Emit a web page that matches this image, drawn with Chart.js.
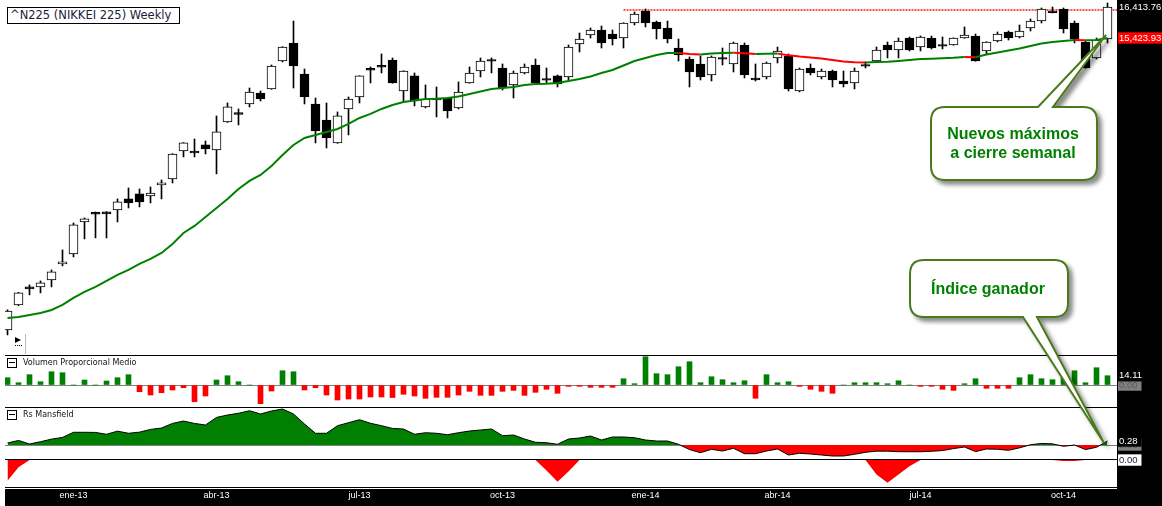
<!DOCTYPE html>
<html>
<head>
<meta charset="utf-8">
<script src="https://cdn.jsdelivr.net/npm/chart.js@4.4.1/dist/chart.umd.min.js"></script>
<style>
  html, body { margin: 0; padding: 0; background: #fff; }
  #wrap { position: relative; width: 1162px; height: 506px; overflow: hidden; background: #fff; }
  canvas { position: absolute; left: 0; }
  .blk { position: absolute; background: #000; }
  .sep { position: absolute; left: 5px; width: 1112px; height: 1px; background: #000; z-index: 3; }
  #title { position: absolute; left: 7px; top: 7px; width: 169px; height: 15px; border: 1px solid #000;
           background: #fff; font: 11.5px 'DejaVu Sans', sans-serif; color: #1c1c3c; line-height: 15px;
           padding-left: 2px; white-space: nowrap; z-index: 5; }
  .box { position: absolute; left: 7px; width: 8px; height: 8px; border: 1px solid #000; background: #fff; z-index: 5; }
  .box:after { content: ''; position: absolute; left: 1px; right: 1px; top: 3px; height: 1px; background: #000; }
  .hdr { position: absolute; left: 23px; font: 8px 'DejaVu Sans', sans-serif; color: #111; line-height: 10px;
         white-space: nowrap; z-index: 5; }
  #play { position: absolute; left: 15px; top: 337px; width: 0; height: 0; border-left: 6px solid #000;
          border-top: 3px solid transparent; border-bottom: 3px solid transparent; z-index: 5; }
  #playdots { position: absolute; left: 15px; top: 345px; width: 7px; border-top: 1px dotted #000; z-index: 5; }
  #playbar { position: absolute; left: 25px; top: 334px; width: 1px; height: 20px; background: #bbb; z-index: 5; }
  #notes { position: absolute; left: 0; top: 0; z-index: 10; pointer-events: none; }
</style>
</head>
<body>
<div id="wrap">
  <div class="blk" style="left:1117px;top:0;width:45px;height:506px"></div>
  <div class="blk" style="left:5px;top:489px;width:1157px;height:17px"></div>

  <canvas id="priceChart" width="1162" height="355" style="top:0;width:1162px;height:355px"></canvas>
  <canvas id="volChart" width="1162" height="52" style="top:355px;width:1162px;height:52px"></canvas>
  <canvas id="rsChart" width="1162" height="52" style="top:407px;width:1162px;height:52px"></canvas>
  <canvas id="lowChart" width="1162" height="66" style="top:440px;width:1162px;height:66px"></canvas>

  <div class="sep" style="top:355px"></div>
  <div class="sep" style="top:407px"></div>
  <div class="sep" style="top:459px"></div>
  <div class="sep" style="top:487px"></div>

  <div id="title">^N225 (NIKKEI 225) Weekly</div>
  <div id="play"></div><div id="playdots"></div><div id="playbar"></div>

  <div class="box" style="top:358px"></div>
  <div class="hdr" style="top:358px">Volumen Proporcional Medio</div>
  <div class="box" style="top:410px"></div>
  <div class="hdr" style="top:410px">Rs Mansfield</div>

  <svg id="notes" width="1162" height="506">
    <defs>
      <filter id="sh" x="-20%" y="-20%" width="150%" height="150%">
        <feDropShadow dx="4" dy="4" stdDeviation="2" flood-color="#000" flood-opacity="0.45"/>
      </filter>
    </defs>
    <path d="M945 107 L1038 107 L1106 35 L1053 107 L1083 107 Q1097 107 1097 121 L1097 166 Q1097 180 1083 180 L945 180 Q931 180 931 166 L931 121 Q931 107 945 107 Z"
          fill="#fff" stroke="#4a7a1e" stroke-width="2" filter="url(#sh)"/>
    <text x="1013" y="139" text-anchor="middle" font-family="'Liberation Sans', Arial, sans-serif" font-weight="bold" font-size="16" fill="#008000">Nuevos máximos</text>
    <text x="1013" y="158" text-anchor="middle" font-family="'Liberation Sans', Arial, sans-serif" font-weight="bold" font-size="16" fill="#008000">a cierre semanal</text>
    <path d="M924 260 L1054 260 Q1068 260 1068 274 L1068 303 Q1068 317 1054 317 L1037 317 L1104 443 L1023 317 L924 317 Q910 317 910 303 L910 274 Q910 260 924 260 Z"
          fill="#fff" stroke="#4a7a1e" stroke-width="2" filter="url(#sh)"/>
    <text x="988" y="294" text-anchor="middle" font-family="'Liberation Sans', Arial, sans-serif" font-weight="bold" font-size="16" fill="#008000">Índice ganador</text>
  </svg>
</div>

<script>
// x-axis: one category per weekly bar, month labels at quarter starts
const tickIndex = [6, 19, 32, 45, 58, 70, 83, 96];
const tickLabels = ['ene-13', 'abr-13', 'jul-13', 'oct-13', 'ene-14', 'abr-14', 'jul-14', 'oct-14'];

// weekly candles
const open = [8586, 9028, 9360, 9360, 9492, 9802, 10001, 10664, 10870, 10880,
  10923, 11168, 11280, 11235, 11486, 11624, 12296, 12290, 12445, 12320,
  13033, 13280, 13512, 13813, 13924, 14729, 15271, 14350, 13512, 13085,
  12495, 13377, 13703, 14510, 14600, 14758, 13868, 14293, 13431, 13675,
  13675, 13404, 14093, 14436, 14770, 14524, 14037, 14379, 14611, 14220,
  14293, 14264, 15240, 15518, 15674, 15549, 15424, 15896, 16284, 15928,
  15737, 15118, 14788, 14641, 14321, 14830, 14641, 15209, 14235, 14264,
  14818, 14878, 13868, 14524, 14264, 14436, 14150, 14093, 14625, 14729,
  15209, 15057, 15424, 15148, 15424, 15225, 15209, 15424, 15487, 15027,
  15332, 15612, 15455, 15737, 15959, 16284, 16349, 15896, 15301, 14818,
  15393];
const high = [8940, 9260, 9398, 9473, 9684, 10081, 10642, 10750, 10880, 10885,
  11168, 11416, 11393, 11439, 11601, 12230, 12505, 12595, 12545, 13191,
  13539, 13377, 13952, 13868, 14611, 15160, 15959, 14494, 13675, 13539,
  13297, 13703, 14300, 14553, 14938, 14818, 14445, 14379, 14037, 13980,
  13685, 14122, 14553, 14818, 14818, 14641, 14436, 14641, 14788, 14524,
  14321, 15209, 15580, 15737, 15801, 15674, 15905, 16251, 16349, 15959,
  15959, 15393, 14848, 14878, 14878, 15118, 15301, 15271, 14641, 14700,
  15148, 14938, 14524, 14641, 14494, 14465, 14436, 14524, 14700, 15148,
  15301, 15424, 15455, 15487, 15487, 15455, 15430, 15769, 15549, 15310,
  15612, 15643, 15832, 16024, 16382, 16414, 16382, 15959, 15332, 15424,
  16546];
const low = [8501, 9015, 9212, 9249, 9360, 9763, 9941, 10306, 10327, 10327,
  10664, 10967, 10990, 11078, 11168, 11532, 12149, 12149, 12222, 11742,
  13020, 12955, 13431, 13593, 13915, 14700, 13952, 13512, 12495, 12370,
  12485, 12698, 13539, 14093, 14379, 14085, 13566, 13458, 13404, 13165,
  13138, 13377, 14085, 14264, 14379, 13896, 13675, 14350, 14085, 14093,
  13980, 14178, 14997, 15424, 15118, 15209, 15118, 15832, 15769, 15393,
  15271, 14729, 13980, 14178, 14150, 14611, 14408, 14235, 14150, 14207,
  14670, 13868, 13841, 14321, 14207, 13980, 13980, 13924, 14524, 14700,
  14818, 14818, 15027, 15027, 15088, 15088, 15200, 15415, 14720, 14938,
  15301, 15362, 15424, 15643, 15896, 16219, 15580, 15271, 14515, 14788,
  15271];
const close = [8919, 9249, 9323, 9436, 9646, 9842, 10600, 10728, 10830, 10836,
  11101, 11078, 11101, 11302, 11532, 12222, 12495, 12245, 12345, 12774,
  13431, 13230, 13841, 13648, 14582, 15148, 14582, 13703, 12800, 12621,
  13191, 13648, 14293, 14460, 14550, 14093, 14436, 13593, 13648, 13620,
  13324, 13841, 14379, 14729, 14720, 13952, 14379, 14553, 14093, 14170,
  14065, 15148, 15393, 15674, 15271, 15393, 15896, 16186, 15896, 15706,
  15393, 14908, 14408, 14264, 14848, 14780, 15271, 14321, 14178, 14670,
  15027, 13924, 14494, 14379, 14436, 14178, 14065, 14436, 14575, 15057,
  15057, 15332, 15057, 15455, 15118, 15170, 15424, 15518, 14729, 15301,
  15549, 15424, 15643, 15959, 16349, 16230, 15706, 15393, 14524, 15362,
  16413.76];

// moving average (red while falling, green while rising)
const ma30 = [8795, 8813, 8848, 8884, 8937, 9028, 9156, 9267, 9360, 9473,
  9588, 9684, 9802, 9901, 10021, 10203, 10431, 10579, 10771, 10967,
  11168, 11393, 11578, 11718, 11932, 12198, 12445, 12621, 12698, 12774,
  12851, 12981, 13138, 13244, 13377, 13485, 13566, 13607, 13648, 13652,
  13675, 13717, 13786, 13854, 13924, 13952, 13980, 14037, 14065, 14070,
  14093, 14150, 14207, 14279, 14379, 14465, 14597, 14729, 14818, 14908,
  14967, 14970, 14938, 14922, 14952, 14967, 14973, 14958, 14938, 14944,
  14948, 14900, 14860, 14833, 14803, 14758, 14714, 14691, 14682, 14700,
  14706, 14729, 14758, 14788, 14797, 14809, 14824, 14848, 14839, 14922,
  14982, 15042, 15103, 15179, 15255, 15301, 15332, 15362, 15353, 15362,
  15423.93];

// previous weekly closing high (dotted line)
const prevHighClose = 16316;
const prevHighStart = 56;

const volume = [11.1, 3.5, 15.7, 5.0, 20.2, 18.7, 0, 7.6, 0, 6.1,
  11.1, 15.7, -10.2, -15.2, -11.7, -7.6, -4.1, -25.4, -16.7, 7.6,
  14.1, 5.0, 0, -28.4, -9.1, 21.7, 20.2, -7.6, -4.1, -15.2,
  -22.8, -21.3, -21.3, -18.2, -18.2, -19.0, -14.1, -16.7, -20.2, -18.7,
  -18.7, -15.2, -9.6, -15.7, -15.7, -9.6, -8.1, -15.7, -11.1, -6.5,
  -12.6, -2.0, -2.0, -3.5, -3.5, -3.5, 9.6, 2.0, 43.0, 17.2,
  15.7, 27.8, 35.4, 3.5, 12.6, 8.1, 3.5, 6.5, -20.2, 15.7,
  3.5, 5.0, -2.0, -6.5, -9.6, -12.6, 0, 3.5, 3.5, 3.5,
  2.0, 6.5, 0, -2.0, -2.0, -6.5, -8.1, 2.0, 9.6, -5.0,
  -5.0, -5.0, 11.1, 15.7, 9.6, 8.1, 14.1, 21.7, 3.5, 26.3,
  14.11];

const rsMansfield = [0.14, 0.32, 0.07, 0.23, 0.41, 0.53, 0.89, 0.89, 0.88, 0.75,
  0.97, 0.82, 0.90, 1.09, 1.19, 1.51, 1.68, 1.51, 1.40, 1.93,
  2.10, 2.22, 2.40, 2.17, 2.38, 2.52, 2.17, 1.47, 0.82, 0.82,
  1.35, 1.56, 1.77, 1.52, 1.35, 1.16, 1.12, 0.75, 0.86, 0.82,
  0.72, 0.86, 0.98, 1.05, 1.12, 0.65, 0.70, 0.42, 0.19, 0.16,
  0.05, 0.42, 0.49, 0.63, 0.35, 0.56, 0.56, 0.51, 0.35, 0.28,
  0.28, 0.05, -0.32, -0.54, -0.30, -0.42, -0.23, -0.61, -0.61, -0.42,
  -0.28, -0.70, -0.58, -0.63, -0.70, -0.77, -0.77, -0.65, -0.51, -0.43,
  -0.43, -0.47, -0.47, -0.47, -0.44, -0.39, -0.25, -0.14, -0.46, -0.28,
  -0.30, -0.37, -0.20, 0.02, 0.11, 0.08, -0.09, 0.00, -0.32, -0.16,
  0.28];

const rsNegative = [-2.0, -0.7, 0, 0, 0, 0, 0, 0, 0, 0,
  0, 0, 0, 0, 0, 0, 0, 0, 0, 0,
  0, 0, 0, 0, 0, 0, 0, 0, 0, 0,
  0, 0, 0, 0, 0, 0, 0, 0, 0, 0,
  0, 0, 0, 0, 0, 0, 0, 0, 0, -1.0,
  -2.1, -1.1, 0, 0, 0, 0, 0, 0, 0, 0,
  0, 0, 0, 0, 0, 0, 0, 0, 0, 0,
  0, 0, 0, 0, 0, 0, 0, 0, 0, -1.4,
  -2.2, -1.4, -0.6, 0, 0, 0, 0, 0, 0, 0,
  0, 0, 0, 0, 0, 0, -0.1, -0.1, 0, 0,
  0];

// right-axis labels
const priceTicks = [16413.76, 15423.93];
const volumeTicks = [0, 14.11];
const rsTicks = [0, 0.28];
const lowTicks = [0];

const toXY = arr => arr.map((v, i) => ({ x: i, y: v }));
const axisFont = { family: "'Liberation Sans', Arial, sans-serif", size: 9.5 };
const dateFont = { family: "'Liberation Sans', Arial, sans-serif", size: 9 };
const fmt = v => v.toLocaleString('en-US', { minimumFractionDigits: 2, maximumFractionDigits: 2 });

function xAxis(show) {
  return {
    type: 'linear', min: -0.2273, max: 100.8636, bounds: 'data', offset: false, display: show,
    grid: { display: false, drawTicks: false }, border: { display: false },
    afterBuildTicks: s => { s.ticks = tickIndex.map(v => ({ value: v })); },
    afterFit: s => { if (show) s.height = 18; s.paddingLeft = 0; s.paddingRight = 0; },
    ticks: { autoSkip: false, maxRotation: 0, padding: 2, color: '#fff', font: dateFont,
             callback: v => tickLabels[tickIndex.indexOf(v)] || '' }
  };
}

function yAxis(extra, values, colors, boxes, zeroLine) {
  return Object.assign({
    position: 'right', bounds: 'data',
    grid: { display: !!zeroLine, drawTicks: false, color: c => (c.tick && c.tick.value === 0) ? '#808080' : 'rgba(0,0,0,0)' },
    border: { display: false },
    afterBuildTicks: s => { s.ticks = values.map(v => ({ value: v })); },
    afterFit: s => { s.width = 45; s.paddingTop = 0; s.paddingBottom = 0; },
    ticks: {
      autoSkip: false, padding: 2, font: axisFont,
      color: c => colors[values.indexOf(c.tick.value)],
      showLabelBackdrop: true,
      backdropColor: c => boxes[values.indexOf(c.tick.value)],
      backdropPadding: { left: 1, right: 4, top: 0, bottom: 0 },
      callback: v => fmt(v)
    }
  }, extra);
}

const baseOptions = (padding) => ({
  responsive: false, animation: false, events: [],
  layout: { padding },
  plugins: { legend: { display: false }, tooltip: { enabled: false } }
});

const prevHighLine = {
  id: 'prevHighLine',
  beforeDatasetsDraw(chart) {
    const { ctx, chartArea, scales } = chart;
    const y = scales.y.getPixelForValue(prevHighClose);
    const x0 = scales.x.getPixelForValue(prevHighStart);
    ctx.save();
    ctx.strokeStyle = 'rgba(255,40,40,0.8)';
    ctx.lineWidth = 2;
    ctx.setLineDash([2, 1]);
    ctx.beginPath();
    ctx.moveTo(x0, y);
    ctx.lineTo(chartArea.right, y);
    ctx.stroke();
    ctx.restore();
  }
};

// price panel
new Chart(document.getElementById('priceChart'), {
  type: 'bar',
  data: {
    datasets: [
      {
        type: 'line', data: toXY(ma30), borderWidth: 2, pointRadius: 0, borderColor: '#008000',
        segment: { borderColor: c => c.p1.parsed.y < c.p0.parsed.y ? '#ff0000' : '#008000' },
        order: 0
      },
      {
        data: open.map((o, i) => ({ x: i, y: [o, close[i]] })),
        backgroundColor: open.map((o, i) => close[i] >= o ? '#fff' : '#000'),
        borderColor: '#000', borderWidth: 1, borderSkipped: false,
        barThickness: 9, grouped: false, order: 1
      },
      {
        data: low.map((l, i) => ({ x: i, y: [l, high[i]] })),
        backgroundColor: '#000', borderWidth: 0, barThickness: 1, grouped: false, order: 2
      }
    ]
  },
  options: Object.assign(baseOptions({ left: 5, top: 0, right: 0, bottom: 0 }), {
    scales: {
      x: xAxis(false),
      y: yAxis({ type: 'logarithmic', min: 8165, max: 16646 }, priceTicks,
               ['#fff', '#fff'], ['rgba(0,0,0,0)', '#ff0000'], false)
    }
  }),
  plugins: [prevHighLine]
});

// volume panel
new Chart(document.getElementById('volChart'), {
  type: 'bar',
  data: {
    datasets: [{
      data: toXY(volume),
      backgroundColor: volume.map(v => v >= 0 ? '#008000' : '#ff0000'),
      borderWidth: 0, barThickness: 5
    }]
  },
  options: Object.assign(baseOptions({ left: 5, top: 0, right: 0, bottom: 0 }), {
    scales: {
      x: xAxis(false),
      y: yAxis({ type: 'linear', min: -33.4, max: 45.6 }, volumeTicks,
               ['#5a5a5a', '#fff'], ['#808080', '#000'], true)
    }
  })
});

// Rs Mansfield panel
new Chart(document.getElementById('rsChart'), {
  type: 'line',
  data: {
    datasets: [{
      data: toXY(rsMansfield), borderColor: '#000', borderWidth: 1, pointRadius: 0,
      fill: { target: 'origin', above: '#007f00', below: '#ff0000' }
    }]
  },
  options: Object.assign(baseOptions({ left: 5, top: 0, right: 0, bottom: 0 }), {
    scales: {
      x: xAxis(false),
      y: yAxis({ type: 'linear', min: -0.98, max: 2.66 }, rsTicks,
               ['#5a5a5a', '#fff'], ['#808080', '#000'], true)
    }
  })
});

// lower panel + date axis
new Chart(document.getElementById('lowChart'), {
  type: 'line',
  data: {
    datasets: [{
      data: toXY(rsNegative), borderColor: 'rgba(0,0,0,0)', borderWidth: 1, pointRadius: 0,
      backgroundColor: '#ff0000', fill: { target: 'origin', above: '#ff0000', below: '#ff0000' }
    }]
  },
  options: Object.assign(baseOptions({ left: 5, top: 19, right: 0, bottom: 0 }), {
    scales: {
      x: xAxis(true),
      y: yAxis({ type: 'linear', min: -2.7, max: 0.1 }, lowTicks,
               ['#1a1a3a'], ['#fff'], false)
    }
  })
});
</script>
</body>
</html>
